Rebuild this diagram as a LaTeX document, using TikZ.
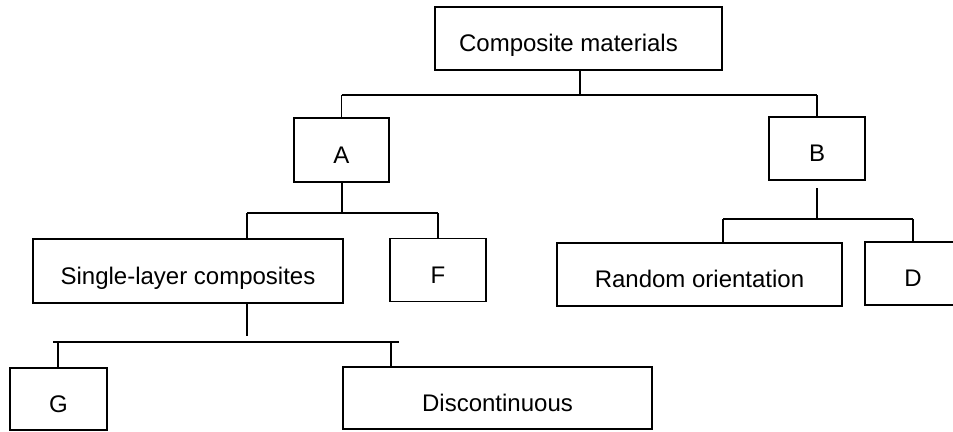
\documentclass[tikz,border=0pt]{standalone}
\usepackage{fontspec}
\setmainfont{Liberation Sans}
\begin{document}
\begin{tikzpicture}[x=1pt,y=-1pt,
  boxtext/.style={font=\fontsize{24}{28}\selectfont, text height=26pt, text depth=0pt},
  box/.style={draw, line width=1.5pt, inner sep=0pt, fill=white, boxtext},
  link/.style={line width=1.5pt}]
\useasboundingbox (0,0) rectangle (953,431);
\clip (0,0) rectangle (953,431);

% boxes: centre, then size
\node[box, minimum width=287pt, minimum height=63pt,
      label={[boxtext, inner sep=0pt, xshift=-10pt]center:Composite materials}]
      (top) at (578.5,38.5) {};
\node[box, minimum width=95pt, minimum height=64pt] (A) at (341.5,150) {A};
\node[box, minimum width=96pt, minimum height=63pt] (B) at (817,148.5) {B};
\node[box, minimum width=310pt, minimum height=64pt] (single) at (188,271) {Single-layer composites};
\node[box, minimum width=96pt, minimum height=63pt] (F) at (438,270) {F};
\node[box, minimum width=285pt, minimum height=63pt] (random) at (699.5,274.5) {Random orientation};
\node[box, minimum width=96pt, minimum height=63pt] (D) at (913,273.5) {D};
\node[box, minimum width=97pt, minimum height=62pt] (G) at (58.5,399) {G};
\node[box, minimum width=309pt, minimum height=62pt] (disc) at (497.5,398) {Discontinuous};

% junction points of the tree
\coordinate (j0) at (580,95);
\coordinate (jA) at (342,213);
\coordinate (jS) at (247,213);
\coordinate (sS) at (247,336);
\coordinate (jL) at (53,342);
\coordinate (jR) at (399,342);
\coordinate (jG) at (58,342);
\coordinate (jD) at (391,342);
\coordinate (bB) at (817,188);
\coordinate (jB) at (817,219);
\coordinate (jRo) at (723,219);

% top level
\draw[link] (top.south -| j0) -- (j0);
\draw[link] (A.north |- j0) -- (B.north |- j0);
\draw[link] (A.north |- j0) -- (A.north);
\draw[link] (B.north |- j0) -- (B.north);

% branch A
\draw[link] (A.south -| jA) -- (jA);
\draw[link] (jS) -- (F.north |- jA);
\draw[link] (jS) -- (jS |- single.north);
\draw[link] (F.north |- jA) -- (F.north);

% single-layer composites
\draw[link] (single.south -| sS) -- (sS);
\draw[link] (jL) -- (jR);
\draw[link] (jG) -- (jG |- G.north);
\draw[link] (jD) -- (jD |- disc.north);

% branch B
\draw[link] (bB) -- (jB);
\draw[link] (jRo) -- (D.north |- jB);
\draw[link] (jRo) -- (jRo |- random.north);
\draw[link] (D.north |- jB) -- (D.north);
\end{tikzpicture}
\end{document}
